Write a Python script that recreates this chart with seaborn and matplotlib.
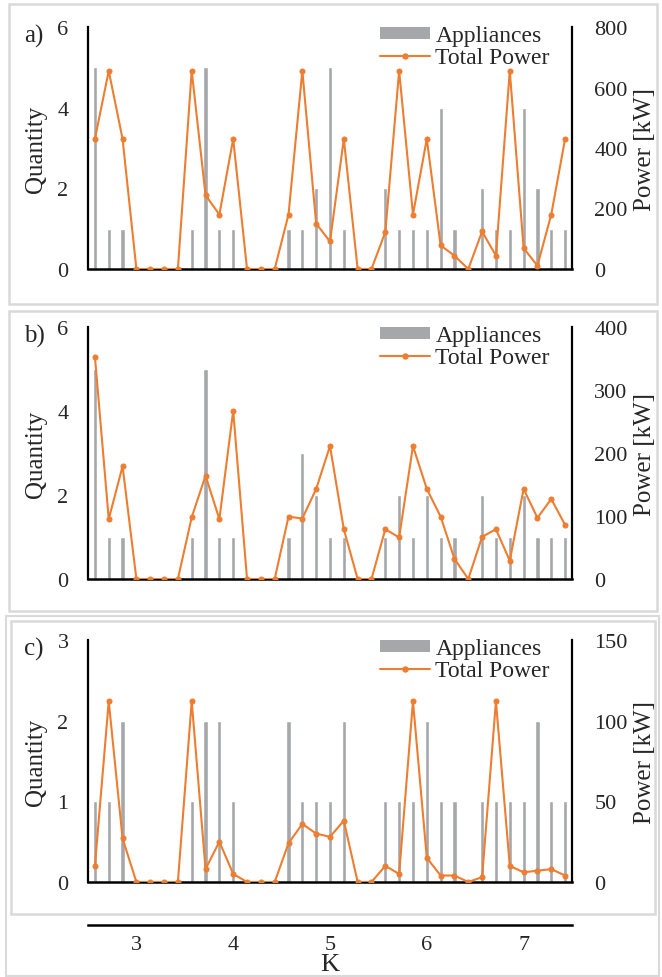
import matplotlib
matplotlib.use("Agg")
import matplotlib.pyplot as plt
import seaborn as sns
import numpy as np
from matplotlib.patches import Patch, Rectangle
from matplotlib.lines import Line2D

# ---------------- data ----------------
k_groups = ["3", "4", "5", "6", "7"]
per_group = 7
panel_labels = ["a)", "b)", "c)"]

appl_a = [5, 1, 1, 0, 0, 0, 0,
          1, 5, 1, 1, 0, 0, 0,
          1, 1, 2, 5, 1, 0, 0,
          2, 1, 1, 1, 4, 1, 0,
          2, 1, 1, 4, 2, 1, 1]
pow_a = [430, 655, 430, 0, 0, 0, 0,
         655, 244, 180, 430, 0, 0, 0,
         180, 655, 150, 91, 430, 0, 0,
         122, 655, 180, 430, 78, 44, 0,
         124, 44, 655, 69, 11, 180, 430]

appl_b = [5, 1, 1, 0, 0, 0, 0,
          1, 5, 1, 1, 0, 0, 0,
          1, 3, 2, 1, 1, 0, 0,
          1, 2, 1, 2, 1, 1, 0,
          2, 1, 1, 2, 1, 1, 1]
pow_b = [353, 95, 179, 0, 0, 0, 0,
         98, 164, 95, 267, 0, 0, 0,
         99, 96, 143, 211, 79, 0, 0,
         79, 66, 211, 143, 99, 32, 0,
         67, 79, 29, 143, 97, 127, 86]

appl_c = [1, 1, 2, 0, 0, 0, 0,
          1, 2, 2, 1, 0, 0, 0,
          2, 1, 1, 1, 2, 0, 0,
          1, 1, 1, 2, 1, 1, 0,
          1, 1, 1, 1, 2, 1, 1]
pow_c = [10, 112, 27, 0, 0, 0, 0,
         112, 8, 25, 5, 0, 0, 0,
         24, 36, 30, 28, 38, 0, 0,
         10, 5, 112, 15, 4, 4, 0,
         3, 112, 10, 6, 7, 8, 4]

q_ticks = [[0, 2, 4, 6], [0, 2, 4, 6], [0, 1, 2, 3]]
p_ticks = [[0, 200, 400, 600, 800], [0, 100, 200, 300, 400], [0, 50, 100, 150]]

appliances = [appl_a, appl_b, appl_c]
powers = [pow_a, pow_b, pow_c]

# ---------------- style ----------------
sns.set_theme(style="white")
plt.rcParams["font.family"] = ["Liberation Serif", "DejaVu Serif"]

GRAY = "#a5a7aa"
ORANGE = "#ed7d31"
BOX = "#d9d9d9"

W, H = 662, 978
fig = plt.figure(figsize=(W / 100, H / 100), dpi=100)
fig.patch.set_facecolor("white")


def fx(px):
    return px / W


def fy(py):
    return 1 - py / H


def axes_px(left, top, right, bottom):
    return fig.add_axes([fx(left), fy(bottom), fx(right) - fx(left), (bottom - top) / H])


# panel frames
frames = [(9, 5, 657, 305), (9, 312, 657, 612), (11, 622, 655, 915)]
for (l, t, r, b) in frames:
    fig.add_artist(Rectangle((fx(l), fy(b)), fx(r) - fx(l), (b - t) / H,
                             transform=fig.transFigure, fill=False,
                             edgecolor=BOX, linewidth=1.8, zorder=0))
fig.add_artist(Rectangle((fx(6), fy(977)), fx(659) - fx(6), (977 - 617) / H,
                         transform=fig.transFigure, fill=False,
                         edgecolor=BOX, linewidth=1.5, zorder=0))

ax_rows = [(28, 270), (328, 580), (641, 883)]
L, R = 88, 572
n = len(appl_a)
pos = np.arange(n)
bounds = [g * per_group - 0.5 for g in range(len(k_groups) + 1)]

for i in range(3):
    top, bot = ax_rows[i]
    ax = axes_px(L, top, R, bot)
    sns.barplot(x=pos, y=appliances[i], ax=ax, color=GRAY, width=0.3,
                native_scale=True, errorbar=None, saturation=1, zorder=2)
    ax.set_xlim(-0.5, n - 0.5)
    ax.set_ylim(0, q_ticks[i][-1])
    ax.set_yticks(q_ticks[i])
    ax.set_xticks(bounds)
    ax.set_xticklabels([])
    ax.tick_params(axis="x", direction="out", length=4, width=1.5, color="black")
    ax.tick_params(axis="y", length=0, pad=14, labelsize=16)
    ax.set_ylabel("Quantity", fontsize=18)
    ax.yaxis.set_label_coords(-0.085, 0.5)
    ax.set_xlabel("")
    ax.spines["top"].set_visible(False)
    ax.spines["left"].set_color("black")
    ax.spines["left"].set_linewidth(1.6)
    ax.spines["bottom"].set_color("black")
    ax.spines["bottom"].set_linewidth(1.8)
    ax.spines["right"].set_visible(False)
    ax.set_facecolor("none")
    ax.grid(False)

    ax2 = ax.twinx()
    sns.lineplot(x=pos, y=powers[i], ax=ax2, color=ORANGE, linewidth=1.5,
                 marker="o", markersize=3.6, markeredgecolor=ORANGE, zorder=3)
    ax2.set_xlim(-0.5, n - 0.5)
    ax2.set_ylim(0, p_ticks[i][-1])
    ax2.set_yticks(p_ticks[i])
    ax2.tick_params(axis="y", length=0, pad=16, labelsize=16)
    ax2.set_ylabel("Power [kW]", fontsize=18)
    ax2.yaxis.set_label_coords(1.128, 0.5)
    ax2.spines["top"].set_visible(False)
    ax2.spines["left"].set_visible(False)
    ax2.spines["bottom"].set_visible(False)
    ax2.spines["right"].set_color("black")
    ax2.spines["right"].set_linewidth(1.6)
    ax2.grid(False)

    handles = [Patch(facecolor=GRAY, edgecolor="none"),
               Line2D([], [], color=ORANGE, linewidth=1.5, marker="o", markersize=3.6)]
    ax2.legend(handles, ["Appliances", "Total Power"], loc="upper left",
               bbox_to_anchor=(fx(380), fy(top - 2)), bbox_transform=fig.transFigure,
               frameon=False, fontsize=17, handlelength=2.1, handleheight=0.4,
               handletextpad=0.25, labelspacing=0.05, borderpad=0.0,
               borderaxespad=0.0)

    fig.text(fx(24), fy(top + 8), panel_labels[i], fontsize=18, ha="left", va="center")

# bottom category axis (K)
axk = axes_px(L, 925, R, 926)
axk.set_xlim(-0.5, n - 0.5)
axk.set_ylim(0, 1)
axk.set_yticks([])
for s in ["top", "left", "right"]:
    axk.spines[s].set_visible(False)
axk.spines["bottom"].set_color("black")
axk.spines["bottom"].set_linewidth(1.8)
axk.set_xticks(bounds)
axk.set_xticklabels([])
axk.tick_params(axis="x", which="major", direction="out", length=7, width=1.5, color="black")
centers = [g * per_group + (per_group - 1) / 2 for g in range(len(k_groups))]
axk.set_xticks(centers, minor=True)
axk.set_xticklabels(k_groups, minor=True, fontsize=16)
axk.tick_params(axis="x", which="minor", length=0, pad=7)
axk.set_facecolor("none")
fig.text(fx(330), fy(976), "K", fontsize=19, ha="center", va="bottom")

fig.savefig("out.png", dpi=100, facecolor="white")
